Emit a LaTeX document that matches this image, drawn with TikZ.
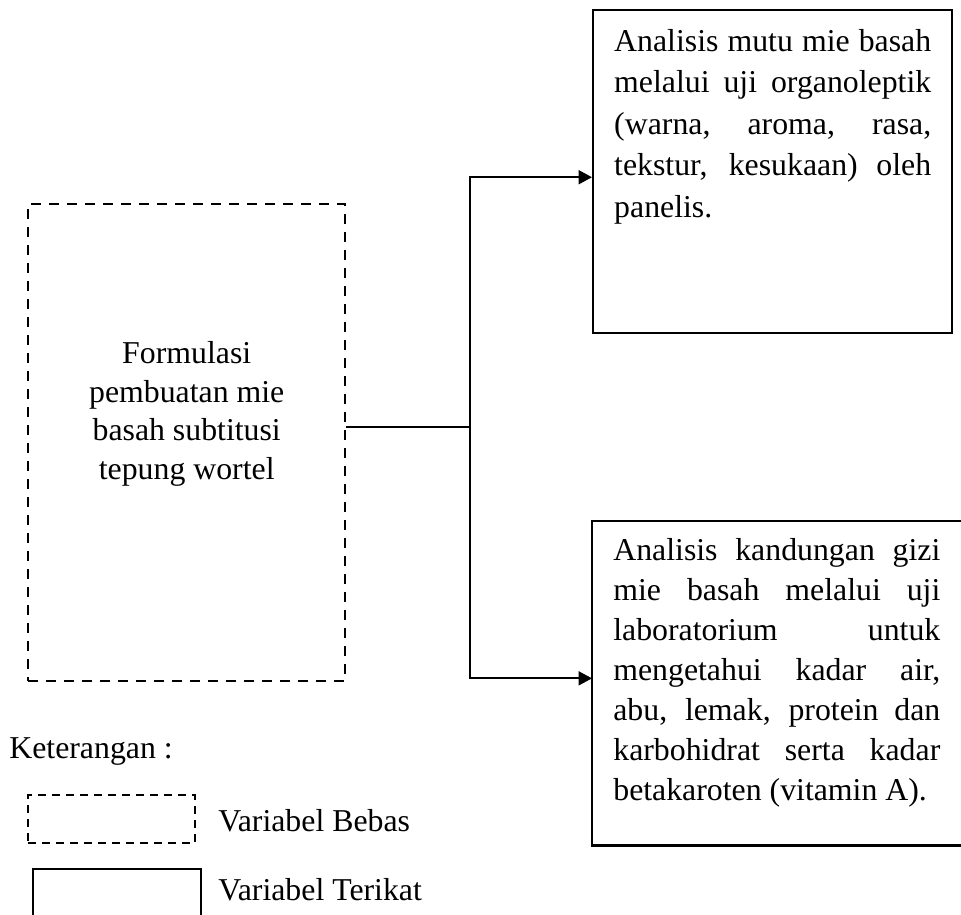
\documentclass[tikz,border=0pt]{standalone}
\usepackage{fontspec}
\setmainfont{Liberation Serif}
\usetikzlibrary{arrows.meta}
\hyphenpenalty=10000
\exhyphenpenalty=10000
\tolerance=10000
\hbadness=10000
\tikzset{
  teks/.style={font=\fontsize{18.1}{#1}\selectfont,inner sep=0pt},
  teks/.default=22.8pt,
  bebas/.style={draw,line width=1.4pt,dash pattern=on 0.2cm off 0.16cm,inner sep=0pt},
  terikat/.style={draw,line width=1.4pt,inner sep=0pt},
  panah/.style={-{Triangle[length=0.27cm,width=0.28cm]},line width=1.2pt}
}

\begin{document}
\begin{tikzpicture}[x=1cm,y=1cm]
\useasboundingbox (0,0) rectangle (19.22,-18.30);
\node[bebas,teks=22.1pt,anchor=north west] (formulasi) at (0.54,-4.06) {\parbox[t][9.54cm][t]{6.34cm}{\centering\rule{0pt}{3.18cm}Formulasi\\pembuatan mie\\basah subtitusi\\tepung wortel}};
\node[terikat,teks=23.6pt,anchor=north west] (mutu) at (11.84,-0.18) {\hspace*{0.42cm}\parbox[t][6.46cm][t]{6.34cm}{\rule{0pt}{0.82cm}Analisis mutu mie basah\linebreak melalui uji organoleptik\linebreak (warna, aroma, rasa,\linebreak tekstur, kesukaan) oleh\linebreak panelis.}\hspace*{0.42cm}};
\node[teks,anchor=north west] (gizi) at (11.84,-10.42) {\hspace*{0.42cm}\parbox[t][6.48cm][t]{6.54cm}{\rule{0pt}{0.78cm}Analisis kandungan gizi\linebreak mie basah melalui uji\linebreak laboratorium untuk\linebreak mengetahui kadar air,\linebreak abu, lemak, protein dan\linebreak karbohidrat serta kadar\linebreak betakaroten (vitamin A).}};
\draw[line width=1.4pt] (19.4,0 |- gizi.north) -- (gizi.north west) -- (gizi.south west) -- (19.4,0 |- gizi.south);
\coordinate (cabang) at (9.40,-8.54);
\draw[line width=1.2pt] (formulasi.east |- cabang) -- (cabang);
\draw[panah] (cabang) |- ([yshift=-0.11cm]mutu.west);
\draw[panah] (cabang) |- ([yshift=0.10cm]gizi.west);
\node[teks,anchor=base west] (keterangan) at (0.18,-15.16) {Keterangan :};
\node[bebas,dash pattern=on 0.16cm off 0.12cm,minimum width=3.34cm,minimum height=0.96cm,anchor=north west] (legbebas) at (0.54,-15.88) {};
\node[teks,anchor=base west] (ketbebas) at (4.36,-16.62) {Variabel Bebas};
\node[terikat,minimum width=3.36cm,minimum height=1.3cm,anchor=north west] (legterikat) at (0.64,-17.36) {};
\node[teks,anchor=base west] (ketterikat) at (4.36,-18.00) {Variabel Terikat};
\end{tikzpicture}
\end{document}
